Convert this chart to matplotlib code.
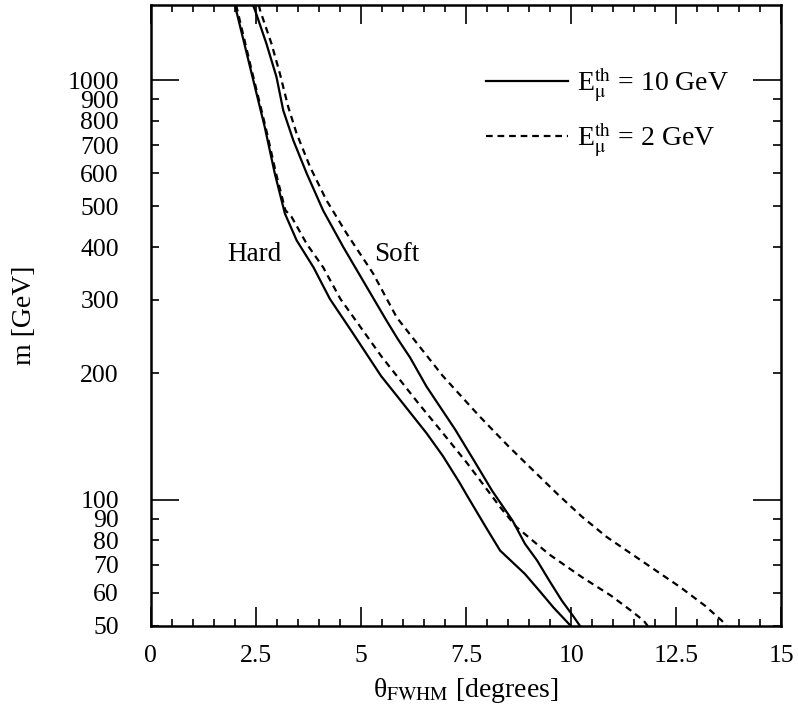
import numpy as np
import matplotlib.pyplot as plt
from matplotlib.ticker import FixedLocator, FixedFormatter

plt.rcParams['font.family'] = ['Liberation Serif', 'DejaVu Serif']
plt.rcParams['mathtext.fontset'] = 'stix'

# --- data (theta in degrees, m in GeV) ---
hard_10_theta = [2.00, 2.36, 2.71, 2.95, 3.19, 3.47, 3.87, 4.26, 4.80, 5.48, 5.87, 6.56, 6.95, 7.34, 7.53, 7.97, 8.31, 8.90, 9.24, 9.58, 9.99]
hard_10_m = [1511, 1076, 774, 599, 481, 415, 358, 301, 250, 197, 176, 144, 127, 110, 102, 86, 75.6, 66.5, 60.7, 55.3, 50]

hard_2_theta = [2.03, 2.38, 2.73, 2.98, 3.20, 3.35, 3.71, 4.10, 4.51, 5.48, 6.36, 6.95, 7.53, 8.02, 8.31, 8.70, 9.48, 10.26, 10.95, 11.43, 11.73, 11.82]
hard_2_m = [1511, 1076, 774, 599, 490, 472, 407, 358, 301, 220, 170, 144, 122, 105, 96, 86, 74, 65.3, 59.0, 54.3, 51.4, 50]

soft_10_theta = [2.43, 2.48, 2.75, 2.99, 3.15, 3.39, 3.71, 4.10, 4.58, 5.14, 5.61, 5.87, 6.17, 6.56, 7.24, 7.73, 8.12, 8.61, 8.90, 9.19, 9.48, 9.78, 10.07, 10.21]
soft_10_m = [1511, 1468, 1223, 1018, 848, 719, 599, 489, 400, 321, 267, 242, 218, 186, 147, 122, 105, 89, 78.5, 71.6, 64.1, 57.4, 52.4, 50]

soft_2_theta = [2.57, 2.60, 2.87, 3.07, 3.27, 3.47, 3.79, 4.18, 4.66, 5.29, 5.85, 6.26, 6.95, 7.82, 8.51, 9.09, 9.68, 10.26, 10.85, 11.43, 12.02, 12.60, 13.19, 13.58, 13.70]
soft_2_m = [1511, 1468, 1223, 1038, 863, 746, 621, 517, 431, 346, 272, 241, 197, 158, 134, 117.6, 103, 91, 81.4, 74.3, 67.7, 61.8, 55.8, 51.5, 50]

major_m = [100, 1000]
minor_m = [50, 60, 70, 80, 90, 200, 300, 400, 500, 600, 700, 800, 900]

fig = plt.figure(figsize=(7.98, 7.21), dpi=100)
ax = fig.add_axes([0.189, 0.132, 0.790, 0.861])

dash = (0, (3, 2.2))
ax.plot(hard_10_theta, hard_10_m, color='black', lw=1.6, label=r'E$^{\mathrm{th}}_{\mathrm{μ}}$ = 10 GeV')
ax.plot(hard_2_theta, hard_2_m, color='black', lw=1.6, ls=dash, label=r'E$^{\mathrm{th}}_{\mathrm{μ}}$ = 2 GeV')
ax.plot(soft_10_theta, soft_10_m, color='black', lw=1.6)
ax.plot(soft_2_theta, soft_2_m, color='black', lw=1.6, ls=dash)

ax.set_yscale('log')
ax.set_xlim(0, 15)
ax.set_ylim(50, 1511)

ax.set_xticks([0, 2.5, 5, 7.5, 10, 12.5, 15])
ax.set_xticklabels(['0', '2.5', '5', '7.5', '10', '12.5', '15'])
ax.set_xticks(np.arange(0, 15.01, 0.5), minor=True)

ax.yaxis.set_major_locator(FixedLocator(major_m))
ax.yaxis.set_major_formatter(FixedFormatter([str(v) for v in major_m]))
ax.yaxis.set_minor_locator(FixedLocator(minor_m))
ax.yaxis.set_minor_formatter(FixedFormatter([str(v) for v in minor_m]))

ax.tick_params(axis='both', which='both', direction='in', top=True, right=True,
               labelsize=18.5, width=1.2)
ax.tick_params(axis='x', which='major', length=14)
ax.tick_params(axis='x', which='minor', length=5)
ax.tick_params(axis='x', which='both', pad=14)
ax.tick_params(axis='y', which='major', length=20)
ax.tick_params(axis='y', which='minor', length=6)
ax.tick_params(axis='y', which='both', pad=23)

for s in ax.spines.values():
    s.set_linewidth(1.8)

ax.set_xlabel(r'θ$_{\mathrm{FWHM}}$ [degrees]', fontsize=20, labelpad=6)
ax.set_ylabel('m [GeV]', fontsize=20, labelpad=22)

ax.text(2.46, 385, 'Hard', fontsize=19.5, ha='center', va='center')
ax.text(5.84, 385, 'Soft', fontsize=19.5, ha='center', va='center')

ax.legend(loc='upper left', bbox_to_anchor=(0.510, 0.925), frameon=False, borderpad=0,
          fontsize=20, handlelength=2.95, handletextpad=0.32, labelspacing=0.6)

fig.savefig('out.png', dpi=100)
